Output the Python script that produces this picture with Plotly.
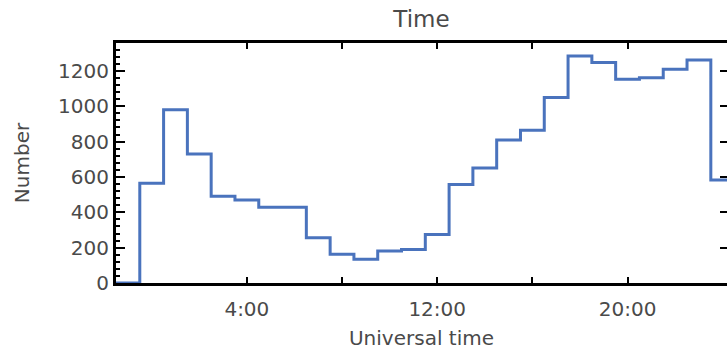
import plotly.graph_objects as go

# Hour bins (bin centred on each hour) and counts
hours = [-1, 0, 1, 2, 3, 4, 5, 6, 7, 8, 9, 10, 11, 12, 13, 14, 15, 16, 17, 18,
         19, 20, 21, 22, 23, 24]
counts = [0, 564, 980, 730, 491, 470, 428, 428, 256, 162, 134, 181, 189, 275,
          557, 651, 809, 865, 1050, 1285, 1247, 1153, 1162, 1209, 1262, 583]

x_tickvals = [4, 8, 12, 16, 20]
x_ticktext = ["4:00", "", "12:00", "", "20:00"]
y_tickvals = [0, 200, 400, 600, 800, 1000, 1200]
y_range = [0, 1358]

# step edges: left edge of each bin, plus the right edge of the last bin
edges = [h - 0.5 for h in hours] + [hours[-1] + 0.5]
levels = counts + [counts[-1]]

txt = "#4a4a4a"
fnt = "DejaVu Sans"

fig = go.Figure()
fig.add_trace(go.Scatter(
    x=edges, y=levels, mode="lines", line_shape="hv",
    line=dict(color="#4a73bd", width=3), cliponaxis=False,
    hoverinfo="skip", showlegend=False))
# empty trace so the right-hand tick axis is drawn
fig.add_trace(go.Scatter(x=[], y=[], yaxis="y2", mode="lines",
                         hoverinfo="skip", showlegend=False))

fig.update_layout(
    width=727, height=351,
    margin=dict(l=116, r=0, t=43, b=68),
    paper_bgcolor="white", plot_bgcolor="white",
    font=dict(family=fnt, size=20, color=txt),
    title=dict(text="Time", x=0.5, xref="paper", xanchor="center",
               y=0.945, yanchor="middle", font=dict(size=23, color=txt, family=fnt)),
    xaxis=dict(range=[-1.5, 24.18], tickvals=x_tickvals, ticktext=x_ticktext,
               ticks="inside", ticklen=6, tickwidth=2, tickcolor="black",
               showline=True, linecolor="black", linewidth=3, mirror="ticks",
               showgrid=False, zeroline=False, layer="below traces",
               automargin=False, ticklabelstandoff=6,
               title=dict(text="Universal time", standoff=11,
                          font=dict(size=20, color=txt)),
               tickfont=dict(size=20, color=txt)),
    yaxis=dict(range=y_range, tickvals=y_tickvals,
               ticks="inside", ticklen=9, tickwidth=2, tickcolor="black",
               minor=dict(dtick=40, ticks="inside", ticklen=4, tickwidth=2,
                          tickcolor="black", showgrid=False),
               showline=True, linecolor="black", linewidth=3, mirror=False,
               showgrid=False, zeroline=False, layer="below traces",
               automargin=False,
               title=dict(text="Number", standoff=24,
                          font=dict(size=20, color=txt)),
               tickfont=dict(size=20, color=txt)),
    yaxis2=dict(range=y_range, tickvals=y_tickvals, overlaying="y",
                side="right", ticks="inside", ticklen=7, tickwidth=2,
                tickcolor="black", showticklabels=False, showline=False,
                showgrid=False, zeroline=False, automargin=False),
)

fig.write_html("out.html",
               config={"displayModeBar": False},
               post_script="document.body.style.margin='0';"
                           "document.body.style.overflow='hidden';")
